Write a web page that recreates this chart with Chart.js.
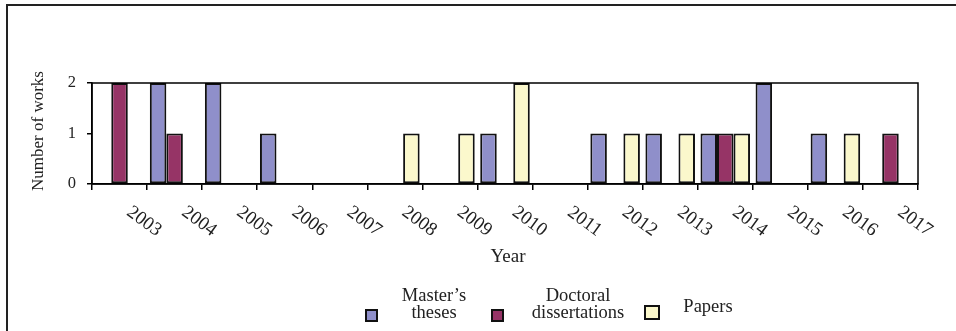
<!DOCTYPE html>
<html>
<head>
<meta charset="utf-8">
<script src="https://cdn.jsdelivr.net/npm/chart.js@4/dist/chart.umd.min.js"></script>
<style>
  html, body { margin: 0; padding: 0; background: #fff; }
  #wrap { position: relative; width: 956px; height: 331px; }
  canvas { display: block; }
</style>
</head>
<body>
<div id="wrap"><canvas id="c" width="956" height="331"></canvas></div>
<script>
const years = ['2003','2004','2005','2006','2007','2008','2009','2010','2011','2012','2013','2014','2015','2016','2017'];
const mastersTheses = [0, 2, 2, 1, 0, 0, 0, 1, 0, 1, 1, 1, 2, 1, 0];
const doctoralDissertations = [2, 1, 0, 0, 0, 0, 0, 0, 0, 0, 0, 1, 0, 0, 1];
const papers = [0, 0, 0, 0, 0, 1, 1, 2, 0, 1, 1, 1, 0, 1, 0];
const seriesNames = [["Master\u2019s", "theses"], ["Doctoral", "dissertations"], ["Papers"]];
const xTitle = 'Year';
const yTitle = 'Number of works';

const FONT = "'Liberation Serif', 'Times New Roman', serif";
const colors = ['#8f8fca', '#963466', '#fbf8cc'];

const decor = {
  id: 'decor',
  beforeDraw(chart) {
    const ctx = chart.ctx;
    ctx.save();
    ctx.fillStyle = '#fff';
    ctx.fillRect(0, 0, chart.width, chart.height);
    // outer frame (left and top visible)
    ctx.strokeStyle = '#222';
    ctx.lineWidth = 2;
    ctx.beginPath();
    ctx.moveTo(7, 340);
    ctx.lineTo(7, 5);
    ctx.lineTo(970, 5);
    ctx.stroke();
    ctx.restore();
  },
  afterDraw(chart) {
    const ctx = chart.ctx;
    const a = chart.chartArea;
    const xs = chart.scales.x;
    ctx.save();
    // plot frame
    ctx.strokeStyle = '#000';
    ctx.lineWidth = 1.5;
    ctx.strokeRect(a.left, a.top, a.right - a.left, a.bottom - a.top);
    // rotated x labels
    ctx.fillStyle = '#222';
    ctx.font = '19px ' + FONT;
    ctx.textAlign = 'center';
    ctx.textBaseline = 'middle';
    years.forEach((y, i) => {
      const cx = xs.getPixelForValue(i) + 24.5;
      ctx.save();
      ctx.translate(cx, 221.5);
      ctx.rotate(36 * Math.PI / 180);
      ctx.fillText(y, 0, 0);
      ctx.restore();
    });
    // axis titles
    ctx.font = '19px ' + FONT;
    ctx.fillText(xTitle, 508, 257);
    ctx.save();
    ctx.translate(39, 131);
    ctx.rotate(-Math.PI / 2);
    ctx.font = '17px ' + FONT;
    ctx.fillText(yTitle, 0, 0);
    ctx.restore();
    // legend
    const boxes = [[366, 310, 11, 11], [492, 310, 11, 11], [645, 306, 14, 13]];
    const textX = [434, 578, 708];
    const baselines = [[301, 318], [301, 318], [312]];
    ctx.font = '18.5px ' + FONT;
    ctx.textBaseline = 'alphabetic';
    boxes.forEach((b, i) => {
      ctx.fillStyle = colors[i];
      ctx.fillRect(b[0], b[1], b[2], b[3]);
      ctx.strokeStyle = '#111';
      ctx.lineWidth = 2;
      ctx.strokeRect(b[0], b[1], b[2], b[3]);
      ctx.fillStyle = '#222';
      seriesNames[i].forEach((t, j) => ctx.fillText(t, textX[i], baselines[i][j]));
    });
    ctx.restore();
  }
};

new Chart(document.getElementById('c'), {
  type: 'bar',
  data: {
    labels: years,
    datasets: [
      { label: seriesNames[0].join(' '), data: mastersTheses, backgroundColor: colors[0] },
      { label: seriesNames[1].join(' '), data: doctoralDissertations, backgroundColor: colors[1] },
      { label: seriesNames[2].join(' '), data: papers, backgroundColor: colors[2] }
    ].map(d => Object.assign(d, {
      borderColor: '#111', borderWidth: 2, borderSkipped: false,
      categoryPercentage: 0.9, barPercentage: 1.0
    }))
  },
  plugins: [decor],
  options: {
    responsive: false,
    animation: false,
    devicePixelRatio: 1,
    layout: { padding: { top: 83, right: 38, bottom: 0, left: 0 } },
    plugins: { legend: { display: false }, tooltip: { enabled: false } },
    scales: {
      x: {
        offset: true,
        grid: { offset: true, drawOnChartArea: false, drawTicks: true, tickLength: 6, color: '#000', lineWidth: 1.5 },
        border: { display: true, color: '#000', width: 1.5 },
        ticks: { display: false },
        afterFit(s) { s.height = 147; }
      },
      y: {
        min: 0, max: 2,
        grid: { drawOnChartArea: false, drawTicks: true, tickLength: 5, color: '#000', lineWidth: 1.5 },
        border: { display: true, color: '#000', width: 1.5 },
        ticks: { stepSize: 1, color: '#222', padding: 11, font: { family: FONT, size: 16.5 } },
        afterFit(s) { s.width = 92; }
      }
    }
  }
});
</script>
</body>
</html>
